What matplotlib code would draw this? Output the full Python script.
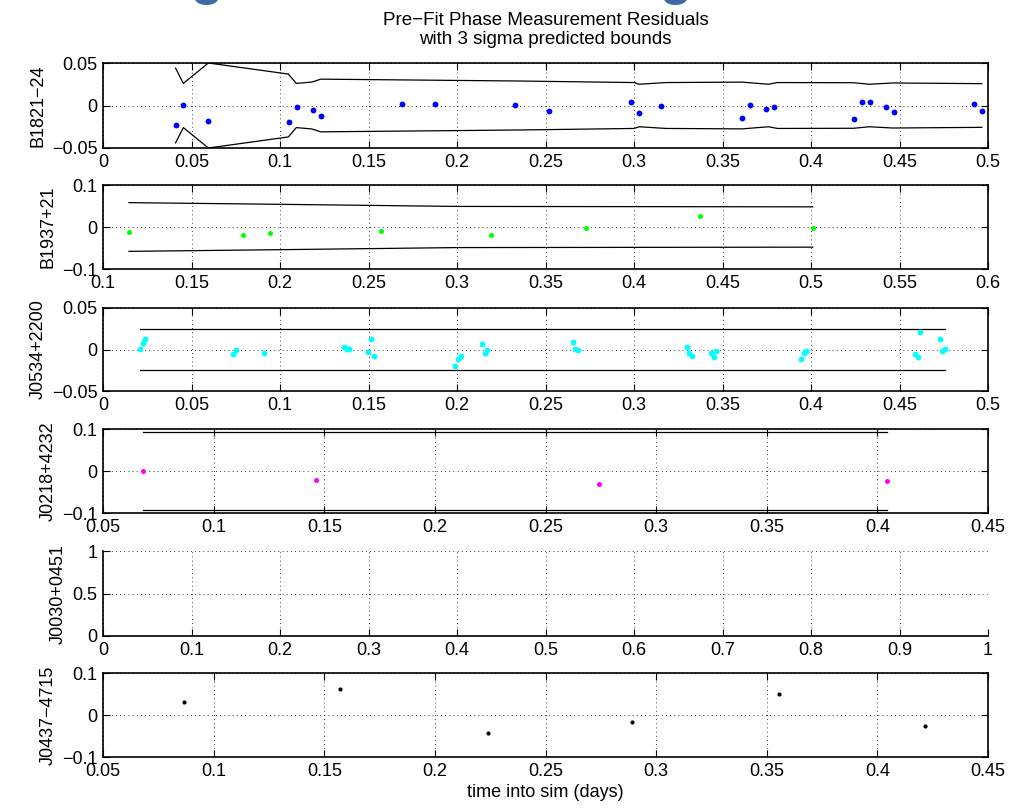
import matplotlib
matplotlib.use('Agg')
import matplotlib.pyplot as plt
from matplotlib.ticker import FuncFormatter

plt.rcParams['font.family'] = ['Liberation Sans', 'DejaVu Sans']

# ---- data ----
names = ['B1821\u221224', 'B1937+21', 'J0534+2200', 'J0218+4232', 'J0030+0451', 'J0437\u22124715']
colors = ['#0000ff', '#00ff00', '#00ffff', '#ff00ff', 'k', 'k']
xlims = [(0, 0.5), (0.1, 0.6), (0, 0.5), (0.05, 0.45), (0, 1), (0.05, 0.45)]
ylims = [(-0.05, 0.05), (-0.1, 0.1), (-0.05, 0.05), (-0.1, 0.1), (0, 1), (-0.1, 0.1)]
xsteps = [0.05, 0.05, 0.05, 0.05, 0.1, 0.05]
yticks = [[-0.05, 0, 0.05], [-0.1, 0, 0.1], [-0.05, 0, 0.05], [-0.1, 0, 0.1], [0, 0.5, 1], [-0.1, 0, 0.1]]

b1821_x = [0.0411, 0.0454, 0.0595, 0.1049, 0.1096, 0.1185, 0.123, 0.1687, 0.1876, 0.2328,
           0.252, 0.2983, 0.3028, 0.3154, 0.361, 0.3655, 0.3744, 0.3791, 0.4243, 0.4288,
           0.4333, 0.4424, 0.4469, 0.4921, 0.4968]
b1821_y = [-0.0233, 0.001, -0.0186, -0.019, -0.0014, -0.0053, -0.0124, 0.0018, 0.0018, 0.0002,
           -0.0069, 0.0045, -0.0088, -0.0002, -0.0143, 0.0006, -0.0045, -0.0018, -0.0163, 0.0041,
           0.0041, -0.0014, -0.0073, 0.0021, -0.0065]
b1821_bx = [0.041, 0.0454, 0.0595, 0.1047, 0.1092, 0.118, 0.123, 0.2356, 0.300, 0.303, 0.318,
            0.361, 0.376, 0.381, 0.424, 0.433, 0.446, 0.4965]
b1821_bu = [0.044, 0.026, 0.050, 0.037, 0.026, 0.0276, 0.031, 0.0288, 0.027, 0.025, 0.027,
            0.0275, 0.025, 0.027, 0.0268, 0.025, 0.0265, 0.0257]

b1937_x = [0.1147, 0.1789, 0.1944, 0.2569, 0.319, 0.3729, 0.4375, 0.501]
b1937_y = [-0.0126, -0.019, -0.0135, -0.0087, -0.0198, -0.003, 0.026, -0.0024]
b1937_bx = [0.1147, 0.2, 0.3, 0.501]
b1937_bu = [0.058, 0.054, 0.049, 0.048]

j0534_x = [0.0211, 0.0224, 0.0239, 0.0736, 0.0749, 0.091, 0.1362, 0.1377, 0.139, 0.1499,
           0.1513, 0.1529, 0.199, 0.2007, 0.2023, 0.2141, 0.2156, 0.2171, 0.2654, 0.2667,
           0.2682, 0.3298, 0.3311, 0.3326, 0.3435, 0.345, 0.3465, 0.3945, 0.3959, 0.3972,
           0.4588, 0.4603, 0.4618, 0.4727, 0.474, 0.4755]
j0534_y = [0.0006, 0.0078, 0.0126, -0.0058, -0.001, -0.0042, 0.0026, 0.001, 0.0006, -0.0026,
           0.0126, -0.0078, -0.0195, -0.011, -0.0082, 0.0062, -0.0042, -0.001, 0.0094, 0.001,
           -0.0006, 0.0026, -0.0038, -0.0074, -0.0042, -0.0094, -0.0022, -0.011, -0.0046, -0.0022,
           -0.0058, -0.0094, 0.0214, 0.0126, -0.0022, 0.001]
j0534_bx = [0.0209, 0.4757]
j0534_bu = [0.025, 0.025]

j0218_x = [0.0679, 0.1463, 0.274, 0.4045]
j0218_y = [0.001, -0.021, -0.032, -0.023]
j0218_bx = [0.0682, 0.4045]
j0218_bu = [0.092, 0.092]

j0437_x = [0.0867, 0.1569, 0.2242, 0.289, 0.3555, 0.4214]
j0437_y = [0.0317, 0.062, -0.042, -0.0174, 0.049, -0.026]

xs = [b1821_x, b1937_x, j0534_x, j0218_x, [], j0437_x]
ys = [b1821_y, b1937_y, j0534_y, j0218_y, [], j0437_y]
bxs = [b1821_bx, b1937_bx, j0534_bx, j0218_bx, None, None]
bus = [b1821_bu, b1937_bu, j0534_bu, j0218_bu, None, None]
msizes = [4.2, 3.6, 4.2, 3.6, 3, 3]

# pixel boxes of the six panels (top, bottom)
W, H = 1011, 811
rows = [(63, 148), (185, 269), (308, 391), (429, 513), (551, 636), (673, 757)]
left, right = 103, 988


def fmt(v, pos):
    s = '%g' % round(v, 4)
    return s.replace('-', '\u2212')


fig = plt.figure(figsize=(W / 100, H / 100), dpi=100)

for i, (top, bot) in enumerate(rows):
    ax = fig.add_axes([left / W, 1 - bot / H, (right - left) / W, (bot - top) / H])
    if bxs[i] is not None:
        ax.plot(bxs[i], bus[i], color='k', lw=0.9)
        ax.plot(bxs[i], [-v for v in bus[i]], color='k', lw=0.9)
    if xs[i]:
        ax.plot(xs[i], ys[i], 'o', color=colors[i], ms=msizes[i], mec='none')
    x0, x1 = xlims[i]
    n = int(round((x1 - x0) / xsteps[i]))
    ax.set_xticks([x0 + k * xsteps[i] for k in range(n + 1)])
    ax.set_yticks(yticks[i])
    ax.set_xlim(x0, x1)
    ax.set_ylim(*ylims[i])
    ax.xaxis.set_major_formatter(FuncFormatter(fmt))
    ax.yaxis.set_major_formatter(FuncFormatter(fmt))
    ax.grid(True, linestyle=(0, (1, 4)), color='k', lw=0.6)
    ax.tick_params(direction='in', length=5, width=0.8, top=i != 4, right=i != 4,
                   labelsize=13, pad=4)
    for sp in ax.spines.values():
        sp.set_linewidth(1.2)
    if i == 4:
        ax.spines['top'].set_visible(False)
        ax.spines['right'].set_visible(False)
    ax.set_ylabel(names[i], fontsize=13, labelpad=4)
    if i == 0:
        ax.set_title('Pre\u2212Fit Phase Measurement Residuals\nwith 3 sigma predicted bounds',
                     fontsize=13.5, pad=14, linespacing=1.15)
    if i == 5:
        ax.set_xlabel('time into sim (days)', fontsize=13, labelpad=3)

# heading cut off above the figure: only the descenders of its letters show
for gx in (207, 676):
    fig.text(gx / W, 1 + 6 / H, 'g', fontsize=38, fontweight='bold', color='#3d6aa0',
             ha='center', va='baseline')

fig.savefig('out.png', dpi=100)
